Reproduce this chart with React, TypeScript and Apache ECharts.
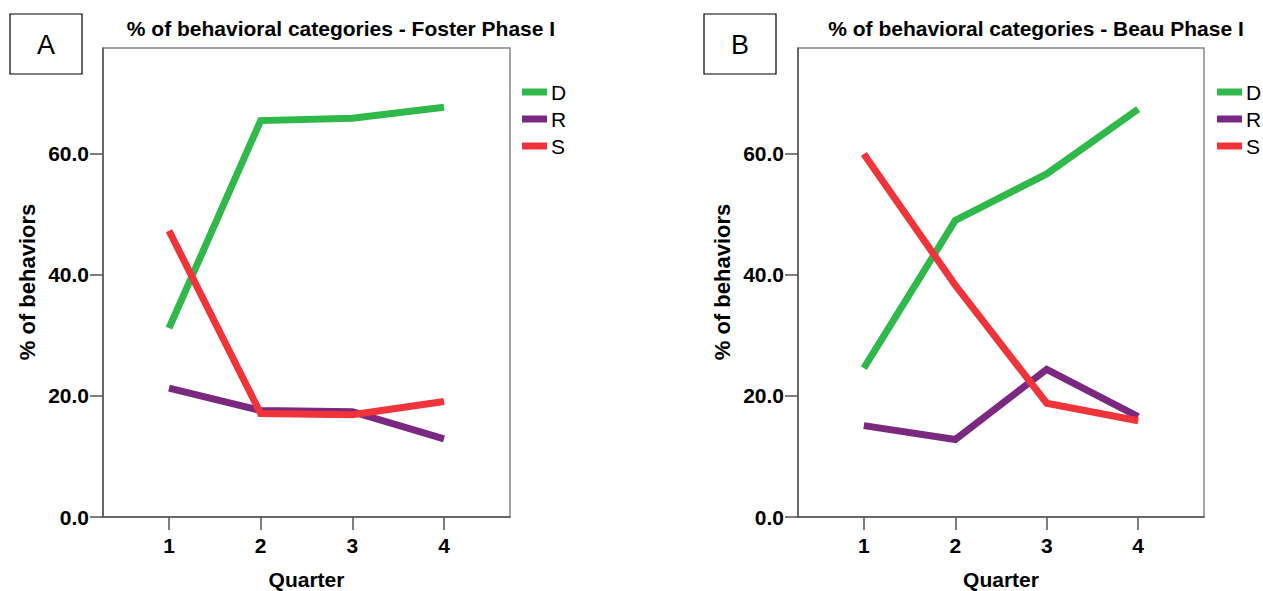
import React, { useEffect, useRef } from "react";
import * as echarts from "echarts";

const quarters = [1, 2, 3, 4];
const seriesNames = ["D", "R", "S"];
const seriesColors = ["#2fb94a", "#7b2880", "#f03439"];

// Panel A: Foster Phase I
const fosterD = [31.2, 65.5, 65.9, 67.7];
const fosterR = [21.3, 17.6, 17.4, 12.9];
const fosterS = [47.3, 17.1, 16.9, 19.1];

// Panel B: Beau Phase I
const beauD = [24.6, 49.0, 56.7, 67.4];
const beauR = [15.1, 12.8, 24.4, 16.6];
const beauS = [60.0, 38.3, 18.8, 15.9];

const yTicks = [0, 20, 40, 60];
const titles = [
  "% of behavioral categories - Foster Phase I",
  "% of behavioral categories - Beau Phase I",
];
const panelLetters = ["A", "B"];
const yName = "% of behaviors";
const xName = "Quarter";

const FONT = "'Liberation Sans', Arial, sans-serif";

export default function App() {
  const ref = useRef<HTMLDivElement>(null);

  useEffect(() => {
    if (!ref.current) return;
    const chart = echarts.init(ref.current, null, { renderer: "svg" });

    const grids = [
      { left: 103, top: 48, width: 407, height: 469 },
      { left: 798, top: 48, width: 406, height: 469 },
    ];
    const panelData = [
      [fosterD, fosterR, fosterS],
      [beauD, beauR, beauS],
    ];

    const xAxes = grids.map((_, i) => ({
      type: "value",
      gridIndex: i,
      min: 0.28,
      max: 4.72,
      axisLine: { show: true, lineStyle: { color: "#555", width: 1.5 } },
      axisTick: {
        show: true,
        length: 13,
        customValues: quarters,
        lineStyle: { color: "#555", width: 1.5 },
      },
      axisLabel: {
        customValues: quarters,
        color: "#000",
        fontFamily: FONT,
        fontWeight: "bold",
        fontSize: 21,
        margin: 18,
      },
      splitLine: { show: false },
      name: xName,
      nameLocation: "middle",
      nameGap: 52,
      nameTextStyle: {
        color: "#000",
        fontFamily: FONT,
        fontWeight: "bold",
        fontSize: 21,
      },
    }));

    const yAxes = grids.map((_, i) => ({
      type: "value",
      gridIndex: i,
      min: 0,
      max: 77.5,
      axisLine: { show: true, lineStyle: { color: "#555", width: 1.5 } },
      axisTick: {
        show: true,
        length: 13,
        customValues: yTicks,
        lineStyle: { color: "#555", width: 1.5 },
      },
      axisLabel: {
        customValues: yTicks,
        formatter: (v: number) => v.toFixed(1),
        color: "#000",
        fontFamily: FONT,
        fontWeight: "bold",
        fontSize: 21,
        margin: 14,
      },
      splitLine: { show: false },
    }));

    const series: any[] = [];
    panelData.forEach((group, pi) => {
      group.forEach((vals, si) => {
        series.push({
          type: "line",
          name: seriesNames[si],
          xAxisIndex: pi,
          yAxisIndex: pi,
          data: quarters.map((q, k) => [q, vals[k]]),
          symbol: "none",
          lineStyle: { width: 7, color: seriesColors[si], cap: "butt", join: "miter" },
          itemStyle: { color: seriesColors[si] },
          z: 3 + si,
        });
      });
    });

    const legendLefts = [522, 1217];
    const legends = legendLefts.map((l) => ({
      data: seriesNames,
      orient: "vertical",
      left: l,
      top: 81,
      padding: 0,
      icon: "rect",
      itemWidth: 25,
      itemHeight: 7,
      itemGap: 5,
      selectedMode: false,
      textStyle: {
        color: "#000",
        fontFamily: FONT,
        fontSize: 21,
        lineHeight: 22,
        padding: [0, 0, 0, -1],
      },
    }));

    const titleCenters = [341, 1036];
    const yNameX = [27, 722];
    const boxLefts = [10, 704];

    const graphic: any[] = [];
    titles.forEach((t, i) => {
      graphic.push({
        type: "text",
        x: titleCenters[i],
        y: 28,
        style: {
          text: t,
          fill: "#000",
          font: `bold 21px ${FONT}`,
          textAlign: "center",
          textVerticalAlign: "middle",
        },
      });
      graphic.push({
        type: "text",
        x: yNameX[i],
        y: 282,
        rotation: Math.PI / 2,
        style: {
          text: yName,
          fill: "#000",
          font: `bold 22px ${FONT}`,
          textAlign: "center",
          textVerticalAlign: "middle",
        },
      });
      graphic.push({
        type: "rect",
        shape: { x: boxLefts[i], y: 14, width: 72, height: 60 },
        style: { fill: "#fff", stroke: "#000", lineWidth: 1.2 },
      });
      graphic.push({
        type: "text",
        x: boxLefts[i] + 36,
        y: 45,
        style: {
          text: panelLetters[i],
          fill: "#000",
          font: `27px ${FONT}`,
          textAlign: "center",
          textVerticalAlign: "middle",
        },
      });
    });

    chart.setOption({
      animation: false,
      backgroundColor: "#fff",
      grid: grids.map((g) => ({
        ...g,
        show: true,
        borderColor: "#888",
        borderWidth: 1.5,
        backgroundColor: "transparent",
        containLabel: false,
        outerBoundsMode: "none",
      })),
      xAxis: xAxes,
      yAxis: yAxes,
      legend: legends,
      series,
      graphic,
    });

    return () => chart.dispose();
  }, []);

  return (
    <div
      ref={ref}
      style={{ position: "fixed", left: 0, top: 0, width: 1263, height: 591 }}
    />
  );
}
